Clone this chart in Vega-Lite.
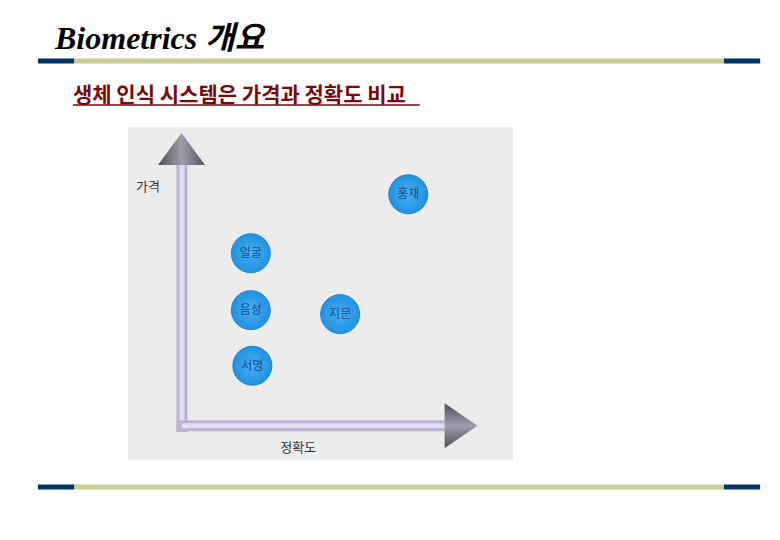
{
  "$schema": "https://vega.github.io/schema/vega-lite/v6.json",
  "width": 385,
  "height": 333,
  "autosize": {"type": "none"},
  "padding": {"left": 128, "top": 127, "right": 267, "bottom": 80},
  "background": "white",
  "config": {"view": {"fill": "#ececec", "stroke": null}},
  "title": {
    "text": "Biometrics 개요",
    "anchor": "start",
    "frame": "group",
    "dx": -73,
    "offset": 3,
    "font": "Liberation Serif, Noto Sans CJK KR",
    "fontSize": 32,
    "fontStyle": "italic",
    "fontWeight": "bold",
    "color": "#000000"
  },
  "data": {"values": [{}]},
  "datasets": {
    "methods": [
      {"method": "홍채", "accuracy": 72.8, "price": 79.8},
      {"method": "얼굴", "accuracy": 31.9, "price": 62.1},
      {"method": "음성", "accuracy": 31.9, "price": 45.0},
      {"method": "지문", "accuracy": 55.1, "price": 43.8},
      {"method": "서명", "accuracy": 32.3, "price": 28.3}
    ]
  },
  "layer": [
    {
      "mark": {"type": "rule", "color": "#cccc99", "strokeWidth": 5},
      "encoding": {
        "x": {"datum": -14.0, "type": "quantitative", "scale": {"domain": [0, 100], "nice": false, "zero": false}, "axis": null},
        "x2": {"datum": 154.8},
        "y": {"datum": 119.8, "type": "quantitative", "scale": {"domain": [0, 100], "nice": false, "zero": false}, "axis": null}
      }
    },
    {
      "mark": {"type": "rule", "color": "#003366", "strokeWidth": 5},
      "encoding": {"x": {"datum": -23.4, "type": "quantitative"}, "x2": {"datum": -14.0}, "y": {"datum": 119.8, "type": "quantitative"}}
    },
    {
      "mark": {"type": "rule", "color": "#003366", "strokeWidth": 5},
      "encoding": {"x": {"datum": 154.8, "type": "quantitative"}, "x2": {"datum": 164.2}, "y": {"datum": 119.8, "type": "quantitative"}}
    },
    {
      "mark": {"type": "rule", "color": "#cccc99", "strokeWidth": 5},
      "encoding": {"x": {"datum": -14.0, "type": "quantitative"}, "x2": {"datum": 154.8}, "y": {"datum": -8.1, "type": "quantitative"}}
    },
    {
      "mark": {"type": "rule", "color": "#003366", "strokeWidth": 5},
      "encoding": {"x": {"datum": -23.4, "type": "quantitative"}, "x2": {"datum": -14.0}, "y": {"datum": -8.1, "type": "quantitative"}}
    },
    {
      "mark": {"type": "rule", "color": "#003366", "strokeWidth": 5},
      "encoding": {"x": {"datum": 154.8, "type": "quantitative"}, "x2": {"datum": 164.2}, "y": {"datum": -8.1, "type": "quantitative"}}
    },
    {
      "mark": {"type": "text", "text": "생체 인식 시스템은 가격과 정확도 비교", "font": "Noto Sans CJK KR", "fontSize": 21, "fontWeight": "bold", "color": "#7a0a0a", "align": "left", "baseline": "alphabetic"},
      "encoding": {"x": {"datum": -14.3, "type": "quantitative"}, "y": {"datum": 107.6, "type": "quantitative"}}
    },
    {
      "mark": {"type": "rule", "color": "#7a0a0a", "strokeWidth": 1.5},
      "encoding": {"x": {"datum": -14.3, "type": "quantitative"}, "x2": {"datum": 75.8}, "y": {"datum": 106.6, "type": "quantitative"}}
    },
    {
      "mark": {"type": "rule", "color": "#bcb2d4", "strokeWidth": 11},
      "encoding": {"x": {"datum": 14.0, "type": "quantitative"}, "y": {"datum": 8.4, "type": "quantitative"}, "y2": {"datum": 92.0}}
    },
    {
      "mark": {"type": "rule", "color": "#e2dcef", "strokeWidth": 5},
      "encoding": {"x": {"datum": 14.0, "type": "quantitative"}, "y": {"datum": 10.0, "type": "quantitative"}, "y2": {"datum": 92.0}}
    },
    {
      "mark": {"type": "rule", "color": "#bcb2d4", "strokeWidth": 11},
      "encoding": {"x": {"datum": 12.6, "type": "quantitative"}, "x2": {"datum": 84.5}, "y": {"datum": 10.3, "type": "quantitative"}}
    },
    {
      "mark": {"type": "rule", "color": "#e2dcef", "strokeWidth": 5},
      "encoding": {"x": {"datum": 14.0, "type": "quantitative"}, "x2": {"datum": 84.5}, "y": {"datum": 10.3, "type": "quantitative"}}
    },
    {
      "mark": {
        "type": "point",
        "shape": "M0,-0.68L1,0.68L-1,0.68Z",
        "size": 2209,
        "filled": true,
        "opacity": 1,
        "color": {"gradient": "linear", "x1": 0, "y1": 0, "x2": 1, "y2": 0, "stops": [{"offset": 0, "color": "#505058"}, {"offset": 0.5, "color": "#a09cac"}, {"offset": 1, "color": "#55555d"}]}
      },
      "encoding": {"x": {"datum": 13.9, "type": "quantitative"}, "y": {"datum": 93.4, "type": "quantitative"}}
    },
    {
      "mark": {
        "type": "point",
        "shape": "M0.73,0L-0.73,-1L-0.73,1Z",
        "size": 2025,
        "filled": true,
        "opacity": 1,
        "color": {"gradient": "linear", "x1": 0, "y1": 0, "x2": 0, "y2": 1, "stops": [{"offset": 0, "color": "#4c4c54"}, {"offset": 0.5, "color": "#a09cac"}, {"offset": 1, "color": "#505058"}]}
      },
      "encoding": {"x": {"datum": 86.5, "type": "quantitative"}, "y": {"datum": 10.3, "type": "quantitative"}}
    },
    {
      "mark": {"type": "text", "text": "가격", "font": "Noto Sans CJK KR", "fontSize": 13, "color": "#333333"},
      "encoding": {"x": {"datum": 5.2, "type": "quantitative"}, "y": {"datum": 82.0, "type": "quantitative"}}
    },
    {
      "mark": {"type": "text", "text": "정확도", "font": "Noto Sans CJK KR", "fontSize": 13, "color": "#333333"},
      "encoding": {"x": {"datum": 44.2, "type": "quantitative"}, "y": {"datum": 3.6, "type": "quantitative"}}
    },
    {
      "data": {"name": "methods"},
      "mark": {
        "type": "point",
        "shape": "circle",
        "filled": true,
        "opacity": 1,
        "size": 1520,
        "stroke": "#1c86d2",
        "strokeWidth": 1,
        "color": {"gradient": "radial", "stops": [{"offset": 0, "color": "#45b0f2"}, {"offset": 1, "color": "#2291e0"}]}
      },
      "encoding": {
        "x": {"field": "accuracy", "type": "quantitative"},
        "y": {"field": "price", "type": "quantitative"}
      }
    },
    {
      "data": {"name": "methods"},
      "mark": {"type": "text", "font": "Noto Sans CJK KR", "fontSize": 12, "color": "#1d4a8c"},
      "encoding": {
        "x": {"field": "accuracy", "type": "quantitative"},
        "y": {"field": "price", "type": "quantitative"},
        "text": {"field": "method"}
      }
    }
  ]
}
